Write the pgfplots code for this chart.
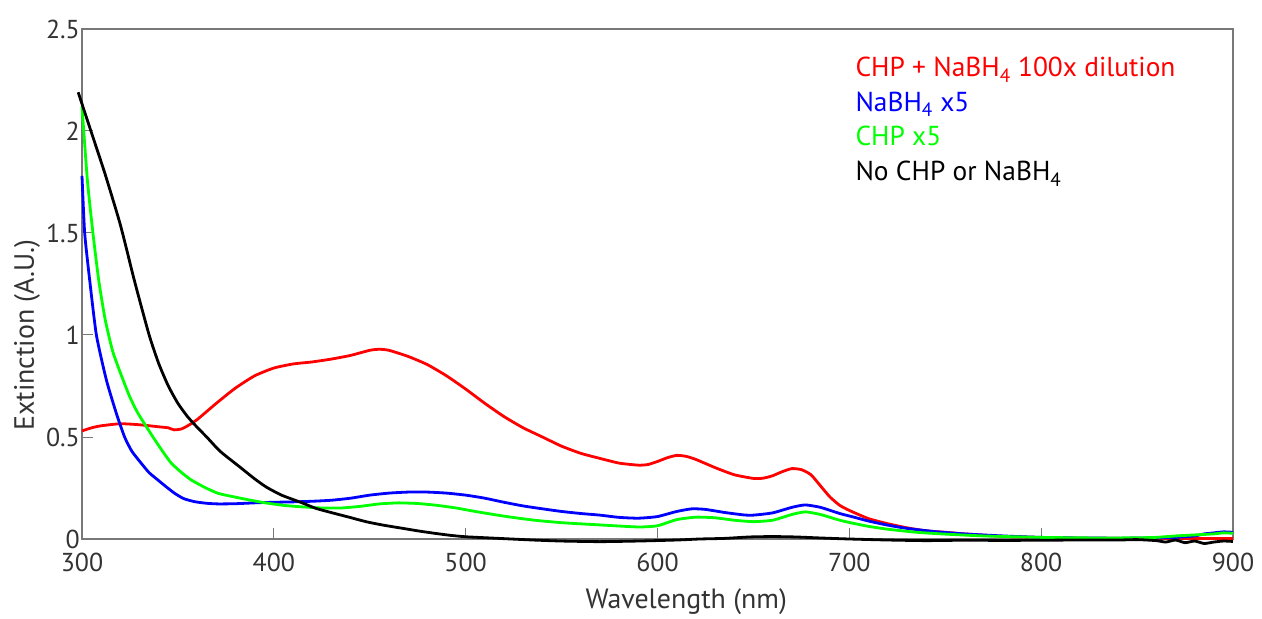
\documentclass[border=0pt]{standalone}
\usepackage{pgfplots}
\pgfplotsset{compat=1.18}
\usepackage{fontspec}
\setmainfont{PT Sans}

\definecolor{axgray}{RGB}{120,120,120}

\begin{document}
\begin{tikzpicture}
\begin{axis}[
    scale only axis,
    width=1151bp, height=510bp,
    xmin=300, xmax=900, ymin=0, ymax=2.5,
    clip=false,
    xtick={300,400,...,900},
    ytick={0,0.5,1,1.5,2,2.5},
    xtick pos=bottom, ytick pos=left,
    tick align=inside,
    major tick length=11bp,
    axis line style={axgray, line width=1.5bp},
    tick style={axgray, line width=1bp},
    /pgf/number format/assume math mode=true,
    tick label style={font=\fontsize{26}{30}\selectfont, text=black!80},
    yticklabel style={inner xsep=2bp},
    xticklabel style={yshift=-11bp},
    label style={font=\fontsize{28}{32}\selectfont, text=black!80},
    xlabel={Wavelength (nm)},
    ylabel={Extinction (A.U.)},
    xlabel style={at={(rel axis cs:0.525,0)}, anchor=north, yshift=-46bp},
    ylabel style={at={(rel axis cs:0,0.40)}, anchor=center, yshift=55bp},
    every axis plot/.append style={line width=2.8bp, smooth, tension=0.35},
]

% CHP + NaBH4 100x dilution
\addplot[red] coordinates {
(300,0.53) (305,0.545) (310,0.555) (320,0.565) (330,0.56) (340,0.55)
(345,0.545) (348,0.535) (352,0.54) (356,0.56) (360,0.585) (370,0.665)
(380,0.74) (390,0.8) (400,0.838) (410,0.858) (420,0.868) (430,0.882)
(440,0.9) (450,0.925) (455,0.93) (460,0.925) (470,0.895) (480,0.855)
(490,0.8) (500,0.735) (510,0.665) (520,0.6) (530,0.545) (540,0.5)
(550,0.455) (560,0.42) (570,0.395) (580,0.372) (590,0.362) (595,0.365)
(600,0.38) (605,0.398) (610,0.41) (615,0.405) (620,0.39) (630,0.35)
(640,0.315) (650,0.297) (655,0.298) (660,0.31) (665,0.33) (670,0.345)
(675,0.34) (680,0.315) (685,0.26) (690,0.205) (695,0.165) (700,0.14)
(710,0.1) (720,0.075) (730,0.055) (740,0.04) (750,0.033) (760,0.025)
(780,0.013) (800,0.007) (820,0.004) (840,0.003) (860,0.002) (880,0.003)
(900,0.002)
};

% NaBH4 x5
\addplot[blue] coordinates {
(300,1.78) (301.4,1.5) (304,1.27) (307.5,1.0) (312.7,0.78) (317.9,0.616)
(322.2,0.5) (326,0.43) (330.9,0.371) (335,0.325) (339.6,0.289) (344,0.255)
(348.3,0.224) (353,0.198) (358.7,0.183) (365,0.175) (371,0.172) (380,0.173)
(392,0.178) (400,0.18) (410,0.182) (420,0.185) (430,0.19) (440,0.2)
(450,0.215) (460,0.225) (470,0.23) (480,0.23) (490,0.225) (500,0.215)
(510,0.2) (520,0.18) (530,0.162) (540,0.148) (550,0.135) (560,0.125)
(570,0.117) (580,0.106) (590,0.102) (600,0.11) (610,0.135) (618,0.148)
(625,0.145) (635,0.13) (645,0.118) (650,0.117) (660,0.128) (670,0.155)
(677,0.167) (685,0.155) (695,0.125) (702,0.108) (710,0.088) (720,0.068)
(730,0.052) (745,0.036) (760,0.025) (780,0.015) (800,0.008) (820,0.005)
(840,0.004) (860,0.005) (870,0.008) (880,0.015) (885,0.025) (890,0.03)
(895,0.035) (900,0.033)
};

% CHP x5
\addplot[green] coordinates {
(300,2.12) (302.8,1.76) (305.7,1.5) (308.7,1.27) (312,1.08) (316,0.92)
(321,0.79) (325,0.695) (329.2,0.616) (337,0.5) (342,0.43) (346.6,0.371)
(352,0.325) (357,0.289) (364,0.253) (370.9,0.224) (380,0.205) (388,0.19)
(395,0.178) (405,0.165) (414,0.158) (425,0.152) (435,0.152) (445,0.16)
(455,0.172) (465,0.177) (475,0.174) (485,0.165) (495,0.152) (505,0.135)
(520,0.112) (535,0.093) (550,0.08) (570,0.069) (590,0.059) (600,0.065)
(610,0.095) (620,0.107) (630,0.104) (640,0.092) (650,0.085) (660,0.092)
(670,0.12) (677,0.133) (685,0.12) (695,0.092) (702,0.077) (710,0.062)
(720,0.048) (735,0.033) (750,0.024) (770,0.015) (800,0.008) (830,0.005)
(850,0.006) (860,0.008) (870,0.015) (880,0.02) (890,0.025) (895,0.03)
(900,0.028)
};

% No CHP or NaBH4
\addplot[black] coordinates {
(298,2.19) (305,1.99) (312,1.79) (320,1.54) (327.5,1.26) (335,1.0)
(340,0.86) (345,0.75) (350,0.665) (355,0.6) (360,0.548) (365,0.5)
(372,0.43) (382,0.355) (390,0.295) (396,0.255) (404,0.215) (414,0.18)
(422,0.15) (431,0.127) (440,0.105) (448,0.085) (457,0.068) (466,0.054)
(475,0.04) (483,0.029) (492,0.018) (500,0.011) (515,0.004) (535,-0.005)
(550,-0.01) (570,-0.013) (590,-0.01) (610,-0.005) (622,0) (635,0.003)
(648,0.01) (660,0.012) (672,0.01) (685,0.005) (700,0) (720,-0.005)
(740,-0.008) (760,-0.006) (780,-0.007) (800,-0.006) (820,-0.005)
(840,-0.005) (850,-0.003) (860,-0.008) (865,-0.015) (870,-0.005)
(875,-0.018) (880,-0.01) (885,-0.022) (890,-0.015) (895,-0.01) (900,-0.012)
};

\begin{scope}[font=\fontsize{27.5}{32}\selectfont]
\node[anchor=base west, text=red]   at (rel axis cs:0.669,0.906) {CHP + NaBH\textsubscript{4} 100x dilution};
\node[anchor=base west, text=blue]  at (rel axis cs:0.669,0.839) {NaBH\textsubscript{4} x5};
\node[anchor=base west, text=green] at (rel axis cs:0.669,0.771) {CHP x5};
\node[anchor=base west, text=black] at (rel axis cs:0.669,0.702) {No CHP or NaBH\textsubscript{4}};
\end{scope}
\end{axis}
\pgfresetboundingbox
\path[use as bounding box] (-82bp,-80bp) rectangle (1180bp,539bp);
\end{tikzpicture}
\end{document}
